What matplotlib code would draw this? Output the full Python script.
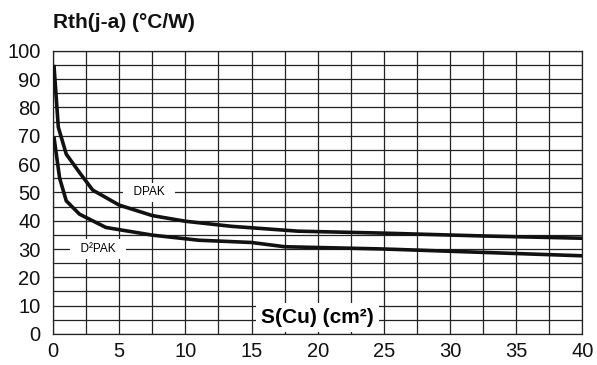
import numpy as np
import matplotlib
matplotlib.use('Agg')
import matplotlib.pyplot as plt

# copper area S(Cu) in cm2 and Rth(j-a) in degC/W
dpak_x = [0.07, 0.4, 1.0, 2.0, 3.0, 5.0, 7.5, 10.0, 13.5, 18.5, 25.0, 32.5, 40.0]
dpak_y = [95.0, 73.0, 63.5, 57.0, 50.8, 45.5, 41.8, 39.8, 38.0, 36.3, 35.6, 34.6, 33.8]

d2pak_x = [0.07, 0.5, 1.0, 2.0, 4.0, 7.5, 11.0, 15.0, 17.5, 25.0, 32.5, 40.0]
d2pak_y = [69.6, 55.0, 47.0, 42.3, 37.6, 34.9, 33.1, 32.3, 30.8, 30.0, 28.8, 27.6]

xticks = [0, 5, 10, 15, 20, 25, 30, 35, 40]
yticks = [0, 10, 20, 30, 40, 50, 60, 70, 80, 90, 100]

plt.rcParams['font.family'] = ['Liberation Sans', 'DejaVu Sans']

fig = plt.figure(figsize=(5.97, 3.65), dpi=100)
ax = fig.add_axes([0.0888, 0.085, 0.8869, 0.776])

# grid every 2.5 in x and 5 in y
for gx in np.arange(0, 40.1, 2.5):
    ax.axvline(gx, color='#222222', lw=0.9, zorder=1)
for gy in np.arange(0, 100.1, 5):
    ax.axhline(gy, color='#222222', lw=0.9, zorder=1)

ax.plot(dpak_x, dpak_y, color='#111111', lw=2.6, zorder=3, solid_capstyle='butt')
ax.plot(d2pak_x, d2pak_y, color='#111111', lw=2.6, zorder=3, solid_capstyle='butt')

lbl_box = dict(facecolor='white', edgecolor='none', boxstyle='square,pad=0.3')
ax.text(7.25, 50, '  DPAK  ', fontsize=8.5, ha='center', va='center', bbox=lbl_box, zorder=4)
ax.text(3.4, 30, '  D²PAK  ', fontsize=8.5, ha='center', va='center', bbox=lbl_box, zorder=4)
ax.text(20, 5.8, 'S(Cu) (cm²)', fontsize=15, fontweight='bold', ha='center', va='center',
        bbox=dict(facecolor='white', edgecolor='none', boxstyle='square,pad=0.25'), zorder=4)

ax.set_xlim(0, 40)
ax.set_ylim(0, 100)
ax.set_xticks(xticks)
ax.set_yticks(yticks)
ax.tick_params(length=0, labelsize=14.5, colors='#111111')
ax.tick_params(axis='x', pad=6)
ax.tick_params(axis='y', pad=9)
for s in ax.spines.values():
    s.set_color('#222222')
    s.set_linewidth(0.9)

fig.text(0.0888, 0.938, 'Rth(j-a) (°C/W)', fontsize=15, fontweight='bold', ha='left', va='center', color='#111111')

plt.savefig('out.png', dpi=100)
